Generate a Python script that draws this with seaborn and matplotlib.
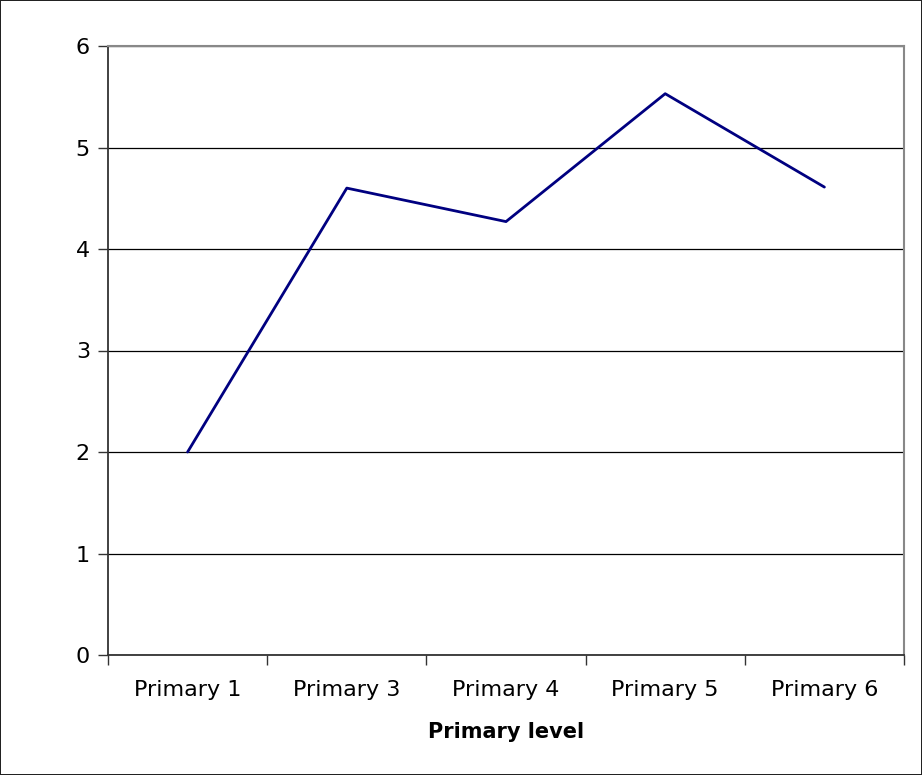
import matplotlib
matplotlib.use("Agg")
import matplotlib.pyplot as plt
from matplotlib.ticker import FixedLocator
import seaborn as sns
import pandas as pd

levels = ["Primary 1", "Primary 3", "Primary 4", "Primary 5", "Primary 6"]
values = [2.0, 4.6, 4.27, 5.53, 4.61]
y_ticks = [0, 1, 2, 3, 4, 5, 6]

df = pd.DataFrame({"level": levels, "value": values})

sns.set_style("white", {"xtick.bottom": True, "ytick.left": True,
                        "text.color": "black", "xtick.color": "black",
                        "ytick.color": "black", "axes.labelcolor": "black"})
plt.rcParams["font.family"] = ["DejaVu Sans"]

fig = plt.figure(figsize=(9.22, 7.75), dpi=100)
fig.patch.set_edgecolor("#222222")
fig.patch.set_linewidth(1.2)
ax = fig.add_axes([108 / 922, 120 / 775, 796 / 922, 609 / 775])

sns.lineplot(data=df, x="level", y="value", color="#000080", linewidth=2.0,
             sort=False, ax=ax)

ax.set_xlim(-0.5, len(levels) - 0.5)
ax.set_ylim(0, 6)
ax.set_yticks(y_ticks)
ax.set_yticklabels([str(t) for t in y_ticks], fontsize=16)

# category labels centred, ticks on the boundaries (Excel style)
ax.set_xticks(range(len(levels)))
ax.set_xticklabels(levels, fontsize=16)
ax.tick_params(axis="x", which="major", length=0, pad=18)
ax.xaxis.set_minor_locator(FixedLocator([i - 0.5 for i in range(len(levels) + 1)]))
ax.tick_params(axis="x", which="minor", bottom=True, length=7, width=1,
               color="#333333", direction="out")
ax.tick_params(axis="y", length=7, width=1, color="#333333", direction="out", pad=6)

ax.grid(axis="y", color="black", linewidth=0.9)
ax.set_axisbelow(True)

for side in ["left", "bottom"]:
    ax.spines[side].set_color("#333333")
    ax.spines[side].set_linewidth(1.3)
for side in ["top", "right"]:
    ax.spines[side].set_color("#888888")
    ax.spines[side].set_linewidth(1.5)

ax.set_xlabel("Primary level", fontsize=15, fontweight="bold", labelpad=16)
ax.set_ylabel("")

fig.savefig("out.png", dpi=100, edgecolor=fig.get_edgecolor())
